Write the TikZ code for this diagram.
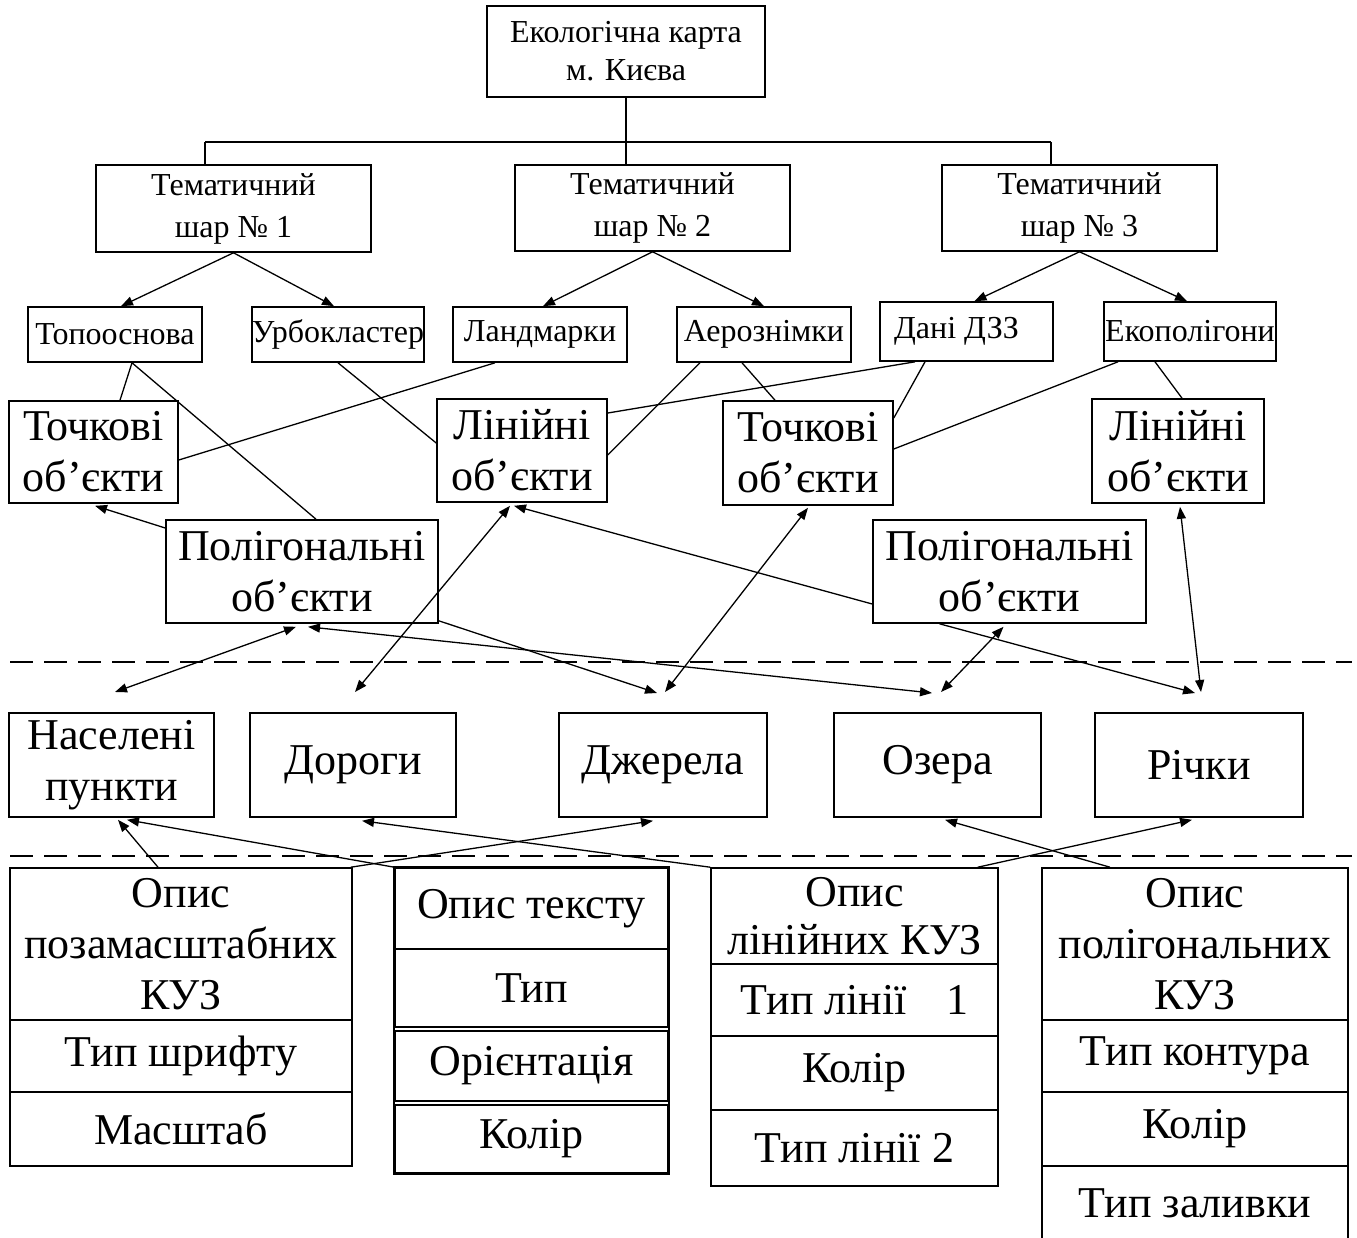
\documentclass[tikz,border=0pt]{standalone}
\usepackage{fontspec}
\setmainfont{Liberation Serif}
\usetikzlibrary{arrows.meta,calc}
\begin{document}
\begin{tikzpicture}[x=1pt,y=-1pt,
  box/.style={draw, line width=1.6pt, inner sep=0pt, align=center},
  sm/.style={font=\fontsize{32}{42}\selectfont},
  bg/.style={font=\fontsize{44}{51}\selectfont},
  conn/.style={line width=1.3pt},
  arr/.style={conn, -{Triangle[length=12pt,width=9pt]}},
  darr/.style={conn, {Triangle[length=12pt,width=9pt]}-{Triangle[length=12pt,width=9pt]}},
  sep/.style={line width=2.8pt, dash pattern=on 23pt off 11pt}
]
\useasboundingbox (0,0) rectangle (1357,1238);
\fill[white] (0,0) rectangle (1357,1238);

% top
\node[box, font=\fontsize{32}{38}\selectfont, minimum width=278pt, minimum height=91pt] (root) at (626,51.5) {Екологічна карта\\м. Києва};
\node[box, sm, minimum width=275pt, minimum height=87pt] (T1) at (233.5,208.5) {Тематичний\\шар № 1};
\node[box, sm, minimum width=275pt, minimum height=86pt] (T2) at (652.5,208) {Тематичний\\шар № 2};
\node[box, sm, minimum width=275pt, minimum height=86pt] (T3) at (1079.5,208) {Тематичний\\шар № 3};

% row 2
\node[box, sm, minimum width=174pt, minimum height=55pt] (topo) at (115,334.5) {Топооснова};
\node[box, sm, minimum width=172pt, minimum height=55pt] (urb) at (338,334.5) {Урбокластер};
\node[box, sm, minimum width=174pt, minimum height=55pt] (land) at (540,334.5) {Ландмарки};
\node[box, sm, minimum width=174pt, minimum height=55pt] (aero) at (764,334.5) {Аерознімки};
\node[box, sm, minimum width=173pt, minimum height=59pt] (dzz) at (966.5,331.5) {Дані ДЗЗ\hspace{20pt}};
\node[box, sm, minimum width=172pt, minimum height=59pt] (eco) at (1190,331.5) {Екополігони};

% row 3
\node[box, bg, minimum width=169pt, minimum height=102pt] (P1) at (93.5,452) {Точкові\\об’єкти};
\node[box, bg, minimum width=170pt, minimum height=103pt] (L1) at (522,450.5) {Лінійні\\об’єкти};
\node[box, bg, minimum width=170pt, minimum height=104pt] (P2) at (808,453) {Точкові\\об’єкти};
\node[box, bg, minimum width=172pt, minimum height=104pt] (L2) at (1178,451) {Лінійні\\об’єкти};
\node[box, bg, minimum width=272pt, minimum height=103pt] (G1) at (302,571.5) {Полігональні\\об’єкти};
\node[box, bg, minimum width=273pt, minimum height=103pt] (G2) at (1009.5,571.5) {Полігональні\\об’єкти};

% row 4
\node[box, bg, minimum width=205pt, minimum height=104pt] (N) at (111.5,765) {Населені\\пункти};
\node[box, bg, minimum width=206pt, minimum height=104pt] (D) at (353,765) {Дороги};
\node[box, bg, minimum width=208pt, minimum height=104pt] (J) at (663,765) {Джерела};
\node[box, bg, minimum width=207pt, minimum height=104pt] (O) at (937.5,765) {Озера};
\node[box, bg, minimum width=208pt, minimum height=104pt] (R) at (1199,765) {Річки};

% tables
\node[box, bg, minimum width=342pt, minimum height=152pt] (tab1h) at (181,944) {Опис\\позамасштабних\\КУЗ};
\node[box, bg, minimum width=342pt, minimum height=72pt] (tab1a) at (181,1056) {Тип шрифту};
\node[box, bg, minimum width=342pt, minimum height=74pt] (tab1b) at (181,1129) {Масштаб};

\node[box, bg, minimum width=273pt, minimum height=81pt] (tab2h) at (531.5,908.5) {Опис тексту};
\node[box, bg, minimum width=273pt, minimum height=78pt] (tab2a) at (531.5,988) {Тип};
\node[box, bg, minimum width=273pt, minimum height=70pt] (tab2b) at (531.5,1066) {Орієнтація};
\node[box, bg, minimum width=273pt, minimum height=68pt] (tab2c) at (531.5,1139) {Колір};
\draw[line width=1.6pt] (tab2h.north west) rectangle (tab2c.south east);

\node[box, font=\fontsize{44}{48}\selectfont, minimum width=287pt, minimum height=96pt] (tab3h) at (854.5,916) {Опис\\лінійних КУЗ};
\node[box, bg, minimum width=287pt, minimum height=72pt] (tab3a) at (854.5,1000) {Тип лінії\hspace{0.9em}1};
\node[box, bg, minimum width=287pt, minimum height=74pt] (tab3b) at (854.5,1073) {Колір};
\node[box, bg, minimum width=287pt, minimum height=76pt] (tab3c) at (854.5,1148) {Тип лінії 2};

\node[box, bg, minimum width=306pt, minimum height=152pt] (tab4h) at (1195,944) {Опис\\полігональних\\КУЗ};
\node[box, bg, minimum width=306pt, minimum height=72pt] (tab4a) at (1195,1056) {Тип контура};
\node[box, bg, minimum width=306pt, minimum height=74pt] (tab4b) at (1195,1129) {Колір};
\node[box, bg, minimum width=306pt, minimum height=74pt] (tab4c) at (1195,1203) {Тип заливки};

% tree bus
\coordinate (b1) at (205,142);
\coordinate (b3) at (1051,142);
\draw[conn] (root.south) -- (root.south |- b1);
\draw[conn] (b1) -- (b3);
\draw[conn] (b1) -- (b1 |- T1.north);
\draw[conn] (root.south |- b1) -- (root.south |- T2.north);
\draw[conn] (b3) -- (b3 |- T3.north);

% tree arrows
\draw[arr] (T1.south) -- ($(topo.north)+(6,0)$);
\draw[arr] (T1.south) -- ($(urb.north)+(-4,0)$);
\draw[arr] (T2.south) -- ($(land.north)+(3,0)$);
\draw[arr] (T2.south) -- (aero.north);
\draw[arr] (T3.south) -- ($(dzz.north)+(8,0)$);
\draw[arr] (T3.south) -- ($(eco.north)+(-3,0)$);

% row2 -> row3 links
\draw[conn] ($(topo.south)+(17,0)$) -- ($(P1.north)+(26.5,0)$);
\draw[conn] ($(topo.south)+(17,0)$) -- ($(G1.north)+(14,0)$);
\draw[conn] (urb.south) -- ($(L1.west)+(0,-7.5)$);
\draw[conn] ($(land.south)+(-45,0)$) -- ($(P1.east)+(0,8)$);
\draw[conn] ($(aero.south)+(-64,0)$) -- ($(L1.east)+(0,4.5)$);
\draw[conn] ($(aero.south)+(-22,0)$) -- ($(P2.north)+(-33,0)$);
\draw[conn] ($(dzz.south)+(-51.5,0)$) -- ($(L1.east)+(0,-37.5)$);
\draw[conn] ($(dzz.south)+(-41.5,0)$) -- ($(P2.east)+(0,-35)$);
\draw[conn] ($(eco.south)+(-72,0)$) -- ($(P2.east)+(0,-4)$);
\draw[conn] ($(eco.south)+(-35,0)$) -- ($(L2.north)+(4,0)$);

% free arrow ends above row 4
\coordinate (nA) at (115,692);
\coordinate (dA) at (355,692);
\coordinate (jA1) at (657,693);
\coordinate (jA2) at (665,692);
\coordinate (oA1) at (932,693);
\coordinate (oA2) at (941,692);
\coordinate (rA1) at (1195,693);
\coordinate (rA2) at (1201,692);

% middle arrows
\draw[arr] ($(G1.west)+(0,-43.5)$) -- ($(P1.south)+(1.5,2)$);
\draw[darr] (dA) -- ($(L1.south)+(-12,3)$);
\draw[darr] (nA) -- ($(G1.south)+(-6,3)$);
\draw[darr] (oA1) -- ($(G1.south)+(6,3)$);
\draw[arr] ($(G1.south east)+(0,-3)$) -- (jA1);
\draw[darr] (jA2) -- ($(P2.south)+(0,2)$);
\draw[arr] ($(G2.west)+(0,32.5)$) -- ($(L1.south)+(-8,3)$);
\draw[darr] (oA2) -- ($(G2.south)+(-6,3)$);
\draw[arr] ($(G2.south)+(-70,0)$) -- (rA1);
\draw[darr] (rA2) -- ($(L2.south)+(2,3)$);

% bottom arrows
\draw[arr] ($(tab1h.north)+(-23,0)$) -- ($(N.south)+(6.5,2)$);
\draw[arr] (tab2h.north west) -- ($(N.south)+(15.5,2)$);
\draw[arr] (tab3h.north west) -- ($(D.south)+(9,3)$);
\draw[arr] ($(tab1h.north east)+(-2,0)$) -- ($(J.south)+(-10,3)$);
\draw[arr] ($(tab4h.north)+(-85,0)$) -- ($(O.south)+(7.5,2)$);
\draw[arr] ($(tab3h.north east)+(-21,0)$) -- ($(R.south)+(-7,2)$);

% dashed separators
\coordinate (s1a) at (10,662);
\coordinate (s1b) at (1352,662);
\coordinate (s2a) at (10,856);
\coordinate (s2b) at (1352,856);
\draw[sep] (s1a) -- (s1b);
\draw[sep] (s2a) -- (s2b);
\end{tikzpicture}
\end{document}
